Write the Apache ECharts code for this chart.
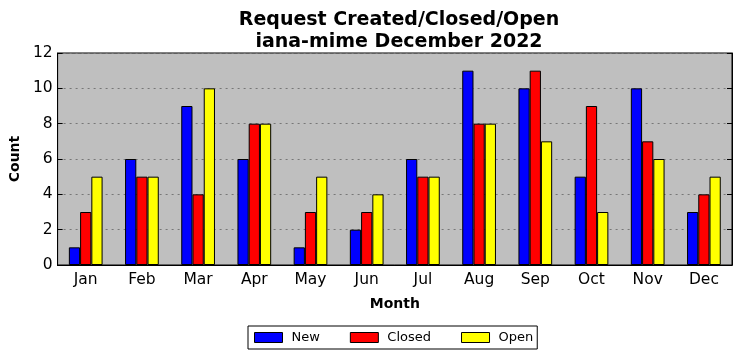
<!DOCTYPE html>
<html><head><meta charset="utf-8">
<script src="https://cdn.jsdelivr.net/npm/echarts@6/dist/echarts.min.js"></script>
<style>html,body{margin:0;padding:0;background:#fff}#c{width:741px;height:361px}</style>
</head><body><div id="c"></div>
<script>
var months = ['Jan','Feb','Mar','Apr','May','Jun','Jul','Aug','Sep','Oct','Nov','Dec'];
var newVals = [1,6,9,6,1,2,6,11,10,5,10,3];
var closedVals = [3,5,4,8,3,3,5,8,11,9,7,4];
var openVals = [5,5,10,8,5,4,5,8,7,3,6,5];
var yTicks = [0,2,4,6,8,10,12];

var F = 'DejaVu Sans';
var chart = echarts.init(document.getElementById('c'));
function bar(name, data, color){
  return {name:name, type:'bar', data:data, barWidth:'20%', barGap:'0%',
    itemStyle:{color:color, borderColor:'#000', borderWidth:1}};
}
chart.setOption({
  animation:false,
  title:{text:'Request Created/Closed/Open\niana-mime December 2022', left:394, top:4, textAlign:'center',
    textStyle:{fontFamily:F, fontWeight:'bold', fontSize:19, lineHeight:22, color:'#000'}},
  legend:{top:326, left:248, itemWidth:28, itemHeight:10, itemGap:30, icon:'rect',
    borderColor:'#000', borderWidth:1, padding:[5,4,5,6], borderRadius:0,
    textStyle:{fontFamily:F, fontSize:13, color:'#000', padding:[0,0,0,4]},
    itemStyle:{borderColor:'#000', borderWidth:1},
    data:['New','Closed','Open']},
  grid:{left:56, right:9, top:53, bottom:96, backgroundColor:'#bfbfbf', show:true, borderColor:'#000', borderWidth:1},
  xAxis:[{type:'category', data:months, position:'bottom',
    axisLine:{lineStyle:{color:'#000'}}, axisTick:{inside:true, alignWithLabel:true, length:5, lineStyle:{color:'#000'}},
    axisLabel:{fontFamily:F, fontSize:15.5, color:'#000', margin:7},
    name:'Month', nameLocation:'middle', nameGap:32,
    nameTextStyle:{fontFamily:F, fontSize:14, fontWeight:'bold', color:'#000'}},
   {type:'category', data:months, position:'top',
    axisLine:{lineStyle:{color:'#000'}}, axisTick:{inside:true, alignWithLabel:true, length:5, lineStyle:{color:'#000'}},
    axisLabel:{show:false}}],
  yAxis:[{type:'value', min:0, max:12, interval:2,
    axisLine:{show:true, lineStyle:{color:'#000'}}, axisTick:{show:true, inside:true, length:5, lineStyle:{color:'#000'}},
    axisLabel:{fontFamily:F, fontSize:15.5, color:'#000', margin:5},
    splitLine:{show:true, lineStyle:{color:'#777', type:[2,4], width:1}},
    name:'Count', nameLocation:'middle', nameGap:32,
    nameTextStyle:{fontFamily:F, fontSize:14, fontWeight:'bold', color:'#000'}},
   {type:'value', min:0, max:12, interval:2, position:'right',
    axisLine:{show:true, lineStyle:{color:'#000'}}, axisTick:{show:true, inside:true, length:5, lineStyle:{color:'#000'}},
    axisLabel:{show:false}, splitLine:{show:false}}],
  series:[bar('New', newVals, '#0000ff'), bar('Closed', closedVals, '#ff0000'), bar('Open', openVals, '#ffff00')]
});
</script></body></html>
